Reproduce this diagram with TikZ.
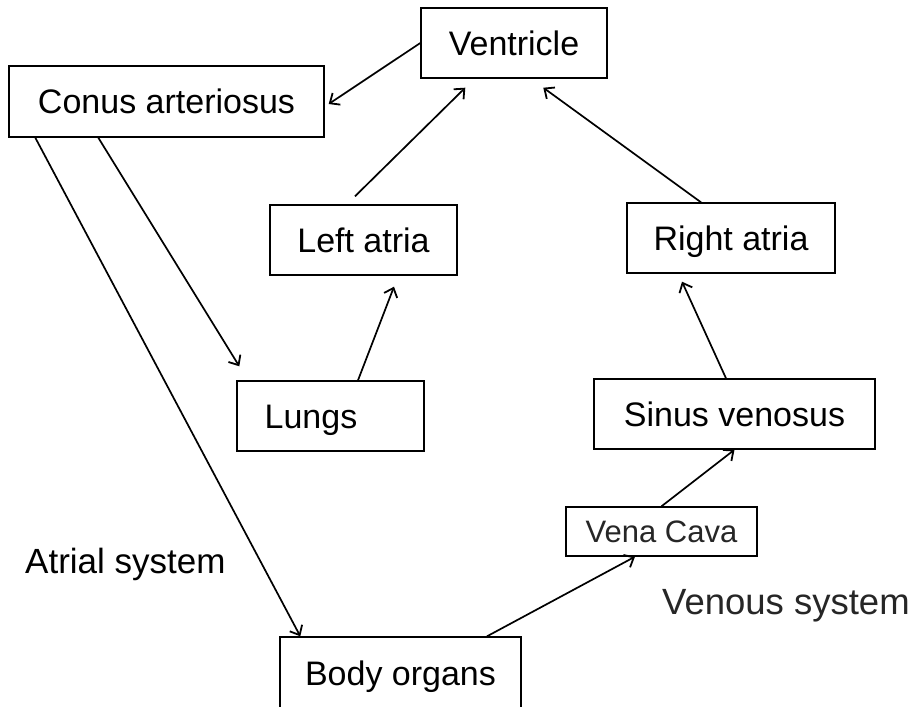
\documentclass[tikz,border=0pt]{standalone}
\usepackage{fontspec}
\setmainfont{Liberation Sans}
\usetikzlibrary{arrows.meta}
\definecolor{darktext}{HTML}{262626}
\tikzset{
  boxnode/.style={draw=black, line width=1.4pt, inner sep=0pt, anchor=center,
    font=\fontsize{34}{40}\selectfont, text=black, text height=24.3pt, text depth=0pt},
  smallbox/.style={boxnode, font=\fontsize{31}{36}\selectfont, text=darktext, text height=22.2pt},
  plainlabel/.style={inner sep=0pt, anchor=base west, font=\fontsize{35}{40}\selectfont},
  flow/.style={line width=1.7pt, draw=black, -{Straight Barb[length=8pt,width=14pt,line width=1.8pt]}},
}
\begin{document}
\begin{tikzpicture}[x=1pt,y=-1pt]
\useasboundingbox (0,0) rectangle (916,707);
\clip (0,0) rectangle (916,707);
\fill[white] (0,0) rectangle (916,707);

\node[boxnode, minimum width=186pt, minimum height=70pt] (vent) at (514,43) {Ventricle};
\node[boxnode, minimum width=315pt, minimum height=71pt] (conus) at (166.5,101.5) {Conus arteriosus};
\node[boxnode, minimum width=187pt, minimum height=70pt] (latria) at (363.5,240) {Left atria};
\node[boxnode, minimum width=208pt, minimum height=70pt] (ratria) at (731,238) {Right atria};
\node[boxnode, minimum width=187pt, minimum height=70pt] (lungs) at (330.5,416) {Lungs\hspace*{39pt}};
\node[boxnode, minimum width=281pt, minimum height=70pt] (sinus) at (734.5,414) {Sinus venosus};
\node[smallbox, minimum width=191pt, minimum height=49pt] (vena) at (661.5,531.5) {Vena Cava};
\node[boxnode, minimum width=241pt, minimum height=72pt] (body) at (400.5,673) {Body organs};

\node[plainlabel, text=black] (atrial) at (25,573) {Atrial system};
\node[plainlabel, text=darktext, font=\fontsize{36.5}{40}\selectfont] (venous) at (662,614) {Venous system};

\draw[flow] (vent.west) -- ([xshift=4pt,yshift=-2.5pt]conus.east);
\draw[flow] ([xshift=-8.5pt,yshift=8pt]latria.north) -- ([xshift=45pt,yshift=-9pt]vent.south west);
\draw[flow] ([xshift=-30pt]ratria.north) -- ([xshift=123pt,yshift=-9pt]vent.south west);
\draw[flow] ([xshift=90pt]conus.south west) -- ([xshift=3pt,yshift=14pt]lungs.north west);
\draw[flow] ([xshift=27pt]conus.south west) -- ([xshift=21pt]body.north west);
\draw[flow] ([xshift=27.5pt]lungs.north) -- ([xshift=30.5pt,yshift=-11pt]latria.south);
\draw[flow] ([xshift=-8.5pt]sinus.north) -- ([xshift=-49pt,yshift=-8pt]ratria.south);
\draw[flow] (vena.north) -- (sinus.south);
\draw[flow] ([xshift=86.5pt]body.north) -- ([xshift=-26.5pt]vena.south);
\end{tikzpicture}
\end{document}
